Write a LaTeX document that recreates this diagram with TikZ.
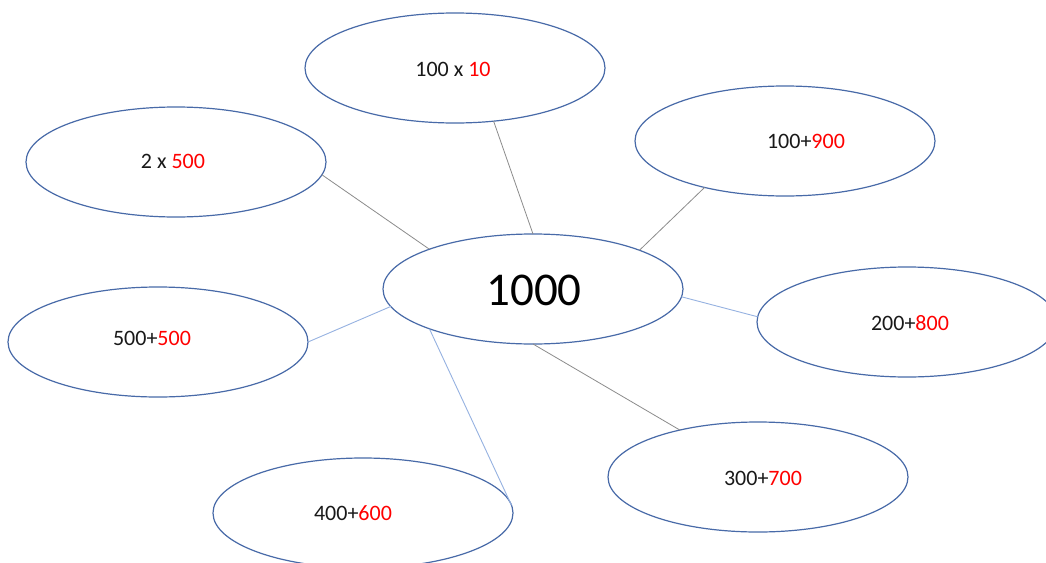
\documentclass[tikz,border=0pt]{standalone}
\usepackage{fontspec}
\setmainfont{Carlito}
\usetikzlibrary{shapes.geometric}
\definecolor{ebord}{RGB}{72,106,168}
\definecolor{lgray}{RGB}{140,140,140}
\definecolor{lblue}{RGB}{150,178,225}
\definecolor{nred}{RGB}{255,0,0}
\newcommand{\rd}[1]{\textcolor{nred}{#1}}
\tikzset{
  bubble/.style={ellipse, draw=ebord, line width=1.2pt, minimum width=300pt, minimum height=110pt, inner sep=0pt, outer sep=0pt},
  lab/.style={font=\fontsize{22}{25}\selectfont, text=black!90},
  grayline/.style={draw=lgray, line width=0.8pt},
  blueline/.style={draw=lblue, line width=0.9pt}
}
\begin{document}
\begin{tikzpicture}[x=1pt,y=-1pt]
\useasboundingbox (0,0) rectangle (1046,562);
\clip (0,0) rectangle (1046,562);
\fill[white] (0,0) rectangle (1046,562);
\node[bubble] (c) at (533,289) {};
\node[font=\fontsize{47}{52}\selectfont] (ct) at (534,290) {1000};
\node[bubble] (a) at (455,68) {};
\node[lab] (at) at (453,69) {100 x \rd{10}};
\node[bubble] (b) at (785,141) {};
\node[lab] (bt) at (806,141) {100+\rd{900}};
\node[bubble] (d) at (176,162) {};
\node[lab] (dt) at (173,161) {2 x \rd{500}};
\node[bubble] (e) at (907,322) {};
\node[lab] (et) at (910,323) {200+\rd{800}};
\node[bubble] (f) at (158,342) {};
\node[lab] (ft) at (152,338) {500+\rd{500}};
\node[bubble] (g) at (363,513) {};
\node[lab] (gt) at (353,513) {400+\rd{600}};
\node[bubble] (h) at (758,477) {};
\node[lab] (ht) at (763,478) {300+\rd{700}};
\draw[grayline] (c.90) -- (a.-54);
\draw[grayline] (c.20.5) -- (b.-150.6);
\draw[grayline] (c.159) -- (d.-5.7);
\draw[blueline] (c.-3) -- (e.178);
\draw[blueline] (c.187) -- (f.0);
\draw[blueline] (c.201) -- (g.3);
\draw[grayline] (c.-90) -- (h.149);
\end{tikzpicture}
\end{document}
